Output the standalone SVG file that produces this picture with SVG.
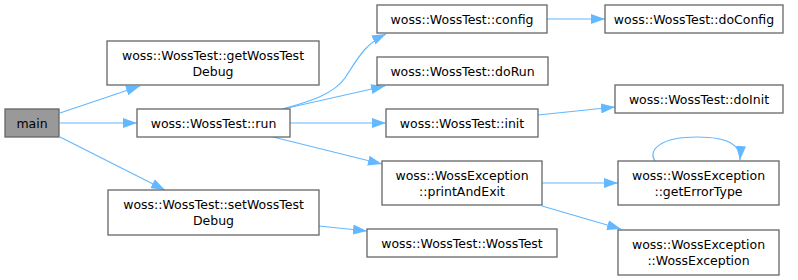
<svg xmlns="http://www.w3.org/2000/svg" width="798" height="280" viewBox="0 0 798 280">
<style>
.n rect{fill:#ffffff;stroke:#666666;stroke-width:1.3}
.n.m rect{fill:#999999}
.n text{font-family:"DejaVu Sans",sans-serif;font-size:12.5px;fill:#000000;text-anchor:middle}
.e path{fill:none;stroke:#63b8ff;stroke-width:1.2;marker-end:url(#a)}
</style>
<defs>
<marker id="a" markerUnits="userSpaceOnUse" markerWidth="14" markerHeight="10" refX="14" refY="5" orient="auto">
<path d="M0,0 L14,5 L0,10 z" fill="#63b8ff"/>
</marker>
</defs>
<rect width="798" height="280" fill="#ffffff"/>
<g id="edges" class="e">
<path d="M60,113 L140,86"/>
<path d="M60,123 L137,123"/>
<path d="M60,137 L165,190"/>
<path d="M283,109 C307,102 333,95 345,78 C358,58 365,44 386,34"/>
<path d="M283,109 L385,86"/>
<path d="M290,123 L386,123"/>
<path d="M273,137 L382,164"/>
<path d="M547,19 L605,19"/>
<path d="M538,115 L615,107"/>
<path d="M542,183 L618,183"/>
<path d="M542,206 L621,229"/>
<path d="M655,161 C648,150 660,137 697,137 C730,137 741,146 740,160"/>
<path d="M319,226 L367,231"/>
</g>
<g id="main" class="n m"><rect x="5" y="109" width="54" height="28"/><text x="32" y="127.5">main</text></g>
<g id="getWossTestDebug" class="n"><rect x="107" y="41" width="212" height="44"/><text x="213" y="59.5">woss::WossTest::getWossTest</text><text x="213" y="75.5">Debug</text></g>
<g id="run" class="n"><rect x="137" y="109" width="153" height="28"/><text x="213.5" y="127.5">woss::WossTest::run</text></g>
<g id="setWossTestDebug" class="n"><rect x="108" y="190" width="211" height="45"/><text x="213.5" y="208.5">woss::WossTest::setWossTest</text><text x="213.5" y="224.5">Debug</text></g>
<g id="config" class="n"><rect x="377" y="5" width="170" height="28"/><text x="462" y="23.5">woss::WossTest::config</text></g>
<g id="doRun" class="n"><rect x="377" y="57" width="171" height="28"/><text x="462.5" y="75.5">woss::WossTest::doRun</text></g>
<g id="init" class="n"><rect x="386" y="109" width="152" height="28"/><text x="462" y="127.5">woss::WossTest::init</text></g>
<g id="printAndExit" class="n"><rect x="382" y="161" width="160" height="44"/><text x="462" y="179.5">woss::WossException</text><text x="462" y="195.5">::printAndExit</text></g>
<g id="WossTest" class="n"><rect x="367" y="229" width="190" height="28"/><text x="462" y="247.5">woss::WossTest::WossTest</text></g>
<g id="doConfig" class="n"><rect x="605" y="5" width="178" height="28"/><text x="694" y="23.5">woss::WossTest::doConfig</text></g>
<g id="doInit" class="n"><rect x="615" y="85" width="168" height="28"/><text x="699" y="103.5">woss::WossTest::doInit</text></g>
<g id="getErrorType" class="n"><rect x="618" y="161" width="161" height="44"/><text x="698.5" y="179.5">woss::WossException</text><text x="698.5" y="195.5">::getErrorType</text></g>
<g id="WossException" class="n"><rect x="618" y="230" width="161" height="45"/><text x="698.5" y="248.5">woss::WossException</text><text x="698.5" y="264.5">::WossException</text></g>
</svg>
